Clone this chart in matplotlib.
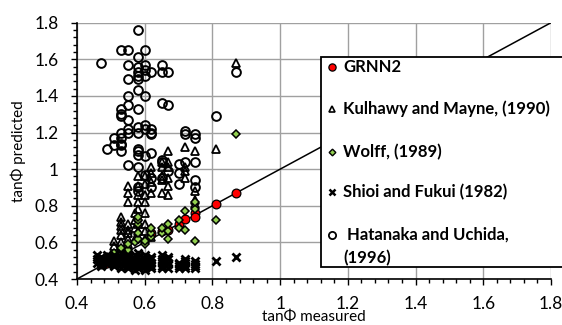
import matplotlib
matplotlib.use("Agg")
import matplotlib.pyplot as plt
from matplotlib.ticker import MultipleLocator, FuncFormatter
from matplotlib.patches import Rectangle
from matplotlib.lines import Line2D

plt.rcParams['font.family'] = ['Lato', 'DejaVu Sans']

# GRNN2
grnn_x = [0.47, 0.48, 0.49, 0.62, 0.65, 0.67, 0.70, 0.72, 0.75, 0.75, 0.81, 0.87]
grnn_y = [0.48, 0.48, 0.49, 0.65, 0.66, 0.67, 0.70, 0.73, 0.76, 0.74, 0.81, 0.87]

# Kulhawy and Mayne (1990)
kul_x = [0.51, 0.51, 0.53, 0.53, 0.53, 0.53, 0.53, 0.53,
         0.55, 0.55, 0.55, 0.55, 0.55, 0.55, 0.55, 0.55,
         0.57, 0.57, 0.57, 0.57,
         0.58, 0.58, 0.58, 0.58, 0.58, 0.58, 0.58, 0.58, 0.58,
         0.60, 0.60, 0.60, 0.60, 0.60, 0.60, 0.60, 0.60,
         0.62, 0.62, 0.62, 0.62, 0.62,
         0.65, 0.65, 0.65, 0.65, 0.65,
         0.67, 0.67, 0.67, 0.67, 0.67, 0.67,
         0.72, 0.72, 0.72, 0.72, 0.75, 0.75, 0.75, 0.75, 0.81, 0.87]
kul_y = [0.58, 0.61, 0.60, 0.64, 0.67, 0.69, 0.71, 0.74,
         0.59, 0.62, 0.65, 0.67, 0.70, 0.82, 0.87, 0.91,
         0.62, 0.68, 0.72, 0.76,
         0.63, 0.66, 0.70, 0.74, 0.78, 0.82, 0.86, 0.91, 0.96,
         0.62, 0.66, 0.70, 0.76, 0.82, 0.86, 0.92, 0.96,
         0.63, 0.87, 0.93, 0.98, 1.01,
         0.87, 0.94, 0.96, 1.01, 1.04,
         0.86, 0.91, 0.95, 1.01, 1.04, 1.10,
         0.95, 0.99, 1.01, 1.12, 0.81, 0.83, 0.88, 1.10, 1.11, 1.58]

# Wolff (1989)
wolff_x = [0.49, 0.51, 0.53, 0.55, 0.55, 0.57, 0.58, 0.58, 0.58, 0.58, 0.58,
           0.60, 0.60, 0.62, 0.62, 0.62, 0.65, 0.65, 0.67, 0.67, 0.67,
           0.70, 0.70, 0.72, 0.72, 0.75, 0.75, 0.75, 0.81, 0.87]
wolff_y = [0.52, 0.54, 0.57, 0.56, 0.59, 0.60, 0.62, 0.65, 0.70, 0.72, 0.74,
           0.59, 0.61, 0.63, 0.65, 0.68, 0.65, 0.68, 0.62, 0.66, 0.70,
           0.68, 0.72, 0.67, 0.77, 0.61, 0.78, 0.82, 0.72, 1.19]

# Shioi and Fukui (1982)
shioi_x = [0.46, 0.46, 0.46,
           0.47, 0.47, 0.47, 0.47,
           0.49, 0.49, 0.49, 0.49,
           0.51, 0.51, 0.51, 0.51, 0.51,
           0.53, 0.53, 0.53, 0.53, 0.53, 0.53,
           0.55, 0.55, 0.55, 0.55, 0.55, 0.55,
           0.57, 0.57, 0.57, 0.57, 0.57, 0.57,
           0.58, 0.58, 0.58, 0.58, 0.58, 0.58,
           0.60, 0.60, 0.60, 0.60, 0.60, 0.60,
           0.62, 0.62, 0.62, 0.62, 0.62,
           0.65, 0.65, 0.65, 0.65, 0.65, 0.65,
           0.67, 0.67, 0.67, 0.67, 0.67,
           0.70, 0.70, 0.70, 0.70,
           0.72, 0.72, 0.72, 0.72, 0.72,
           0.75, 0.75, 0.75, 0.75,
           0.81, 0.87]
shioi_y = [0.49, 0.51, 0.53,
           0.47, 0.48, 0.50, 0.52,
           0.48, 0.50, 0.51, 0.53,
           0.47, 0.49, 0.50, 0.52, 0.53,
           0.46, 0.48, 0.49, 0.51, 0.52, 0.54,
           0.46, 0.47, 0.49, 0.50, 0.52, 0.53,
           0.45, 0.47, 0.48, 0.50, 0.51, 0.53,
           0.46, 0.47, 0.49, 0.50, 0.52, 0.54,
           0.45, 0.47, 0.48, 0.50, 0.51, 0.53,
           0.46, 0.47, 0.49, 0.51, 0.52,
           0.46, 0.47, 0.49, 0.50, 0.51, 0.53,
           0.46, 0.48, 0.49, 0.51, 0.52,
           0.46, 0.47, 0.48, 0.49,
           0.46, 0.47, 0.49, 0.50, 0.51,
           0.46, 0.47, 0.48, 0.50,
           0.50, 0.52]

# Hatanaka and Uchida (1996)
hat_x = [0.47, 0.49, 0.51, 0.51, 0.53, 0.53, 0.53, 0.53, 0.53, 0.53, 0.53, 0.53, 0.53,
         0.55, 0.55, 0.55, 0.55, 0.55, 0.55, 0.55, 0.55, 0.55,
         0.58, 0.58, 0.58, 0.58, 0.58, 0.58, 0.58, 0.58, 0.58, 0.58, 0.58, 0.58,
         0.58, 0.58, 0.58, 0.58,
         0.60, 0.60, 0.60, 0.60, 0.60, 0.60, 0.60, 0.60, 0.60,
         0.62, 0.62, 0.62, 0.62, 0.62, 0.62, 0.62,
         0.65, 0.65, 0.65, 0.65, 0.65, 0.65,
         0.67, 0.67, 0.67, 0.70, 0.70, 0.70,
         0.72, 0.72, 0.72, 0.75, 0.75, 0.75, 0.75, 0.75, 0.81, 0.87]
hat_y = [1.58, 1.11, 1.13, 1.17, 1.10, 1.13, 1.14, 1.17, 1.20, 1.29, 1.30, 1.33, 1.65,
         1.02, 1.20, 1.22, 1.27, 1.35, 1.40, 1.49, 1.57, 1.65,
         0.88, 0.90, 1.01, 1.08, 1.10, 1.11, 1.20, 1.23, 1.33, 1.43, 1.49,
         1.51, 1.53, 1.56, 1.61, 1.76,
         0.97, 1.07, 1.24, 1.40, 1.51, 1.54, 1.57, 1.65, 1.22,
         0.90, 0.95, 1.09, 1.19, 1.20, 1.22, 1.53,
         0.95, 1.04, 1.05, 1.36, 1.53, 1.57,
         0.99, 1.35, 1.53, 0.92, 0.98, 1.03,
         1.04, 1.19, 1.21, 0.90, 0.94, 1.04, 1.17, 1.19, 1.29, 1.53]

tick_vals = [0.4, 0.6, 0.8, 1.0, 1.2, 1.4, 1.6, 1.8]
legend_labels = ['GRNN2', 'Kulhawy and Mayne, (1990)', 'Wolff, (1989)',
                 'Shioi and Fukui (1982)', ' Hatanaka and Uchida,\n(1996)']

W, H = 562, 325
fig = plt.figure(figsize=(W / 100, H / 100), dpi=100)
ax = fig.add_axes([77 / W, 1 - 279 / H, (551 - 77) / W, (279 - 22.7) / H])

ax.set_xlim(0.4, 1.8)
ax.set_ylim(0.4, 1.8)
ax.set_xticks(tick_vals)
ax.set_yticks(tick_vals)
ax.xaxis.set_minor_locator(MultipleLocator(0.04))
ax.yaxis.set_minor_locator(MultipleLocator(0.04))
fmt = FuncFormatter(lambda v, p: '%g' % round(v, 2))
ax.xaxis.set_major_formatter(fmt)
ax.yaxis.set_major_formatter(fmt)
ax.grid(True, which='major', color='#a0a0a0', lw=1.0, zorder=0)
ax.set_axisbelow(True)
for s in ['top', 'right']:
    ax.spines[s].set_visible(False)
for s in ['left', 'bottom']:
    ax.spines[s].set_linewidth(1.2)
ax.tick_params(which='major', direction='out', length=4, width=1, labelsize=12.5)
ax.tick_params(axis='x', which='major', pad=8)
ax.tick_params(axis='y', which='major', pad=9)
ax.tick_params(which='minor', direction='out', length=3, width=1)

ax.plot([0.4, 1.8], [0.4, 1.8], color='black', lw=1.1, zorder=2)

ms = dict(linestyle='none', clip_on=False)
ax.plot(grnn_x, grnn_y, marker='o', ms=6.3, mfc='red', mec='black', mew=0.9, zorder=3, **ms)
ax.plot(kul_x, kul_y, marker='^', ms=5.8, mfc='none', mec='black', mew=1.3, zorder=4, **ms)
ax.plot(wolff_x, wolff_y, marker='D', ms=3.8, mfc='#92d050', mec='black', mew=1.1, zorder=5, **ms)
ax.plot(shioi_x, shioi_y, marker='x', ms=5.2, mec='black', mew=2.0, zorder=6, **ms)
ax.plot(hat_x, hat_y, marker='o', ms=6.3, mfc='none', mec='black', mew=1.4, zorder=7, **ms)

ax.set_xlabel('tanΦ measured', fontsize=11)
ax.set_ylabel('tanΦ predicted', fontsize=11)
ax.xaxis.set_label_coords(0.5, -0.122)
ax.yaxis.set_label_coords(-0.108, 0.5)

# legend box drawn by hand, it runs past the right edge of the figure
fig.add_artist(Rectangle((320.7 / W, 1 - 266.7 / H), (580 - 320.7) / W, (266.7 - 56.7) / H,
                         transform=fig.transFigure, facecolor='white', edgecolor='black',
                         lw=1.3, zorder=10))
leg_y = [66.7, 109, 151.7, 192.3, 235]
leg_style = [dict(marker='o', ms=5.2, mfc='red', mec='black', mew=0.9),
             dict(marker='^', ms=4.8, mfc='none', mec='black', mew=1.2),
             dict(marker='D', ms=3.4, mfc='#92d050', mec='black', mew=1.0),
             dict(marker='x', ms=4.2, mec='black', mew=1.8),
             dict(marker='o', ms=5.2, mfc='none', mec='black', mew=1.3)]
for py, lab, st in zip(leg_y, legend_labels, leg_style):
    fig.add_artist(Line2D([332 / W], [1 - py / H], transform=fig.transFigure, zorder=11, **st))
    for i, line in enumerate(lab.split('\n')):
        fig.text(343 / W, 1 - (py + 23 * i) / H, line, va='center', ha='left',
                 fontsize=12, fontweight='bold', zorder=12)

fig.savefig('out.png', dpi=100)
